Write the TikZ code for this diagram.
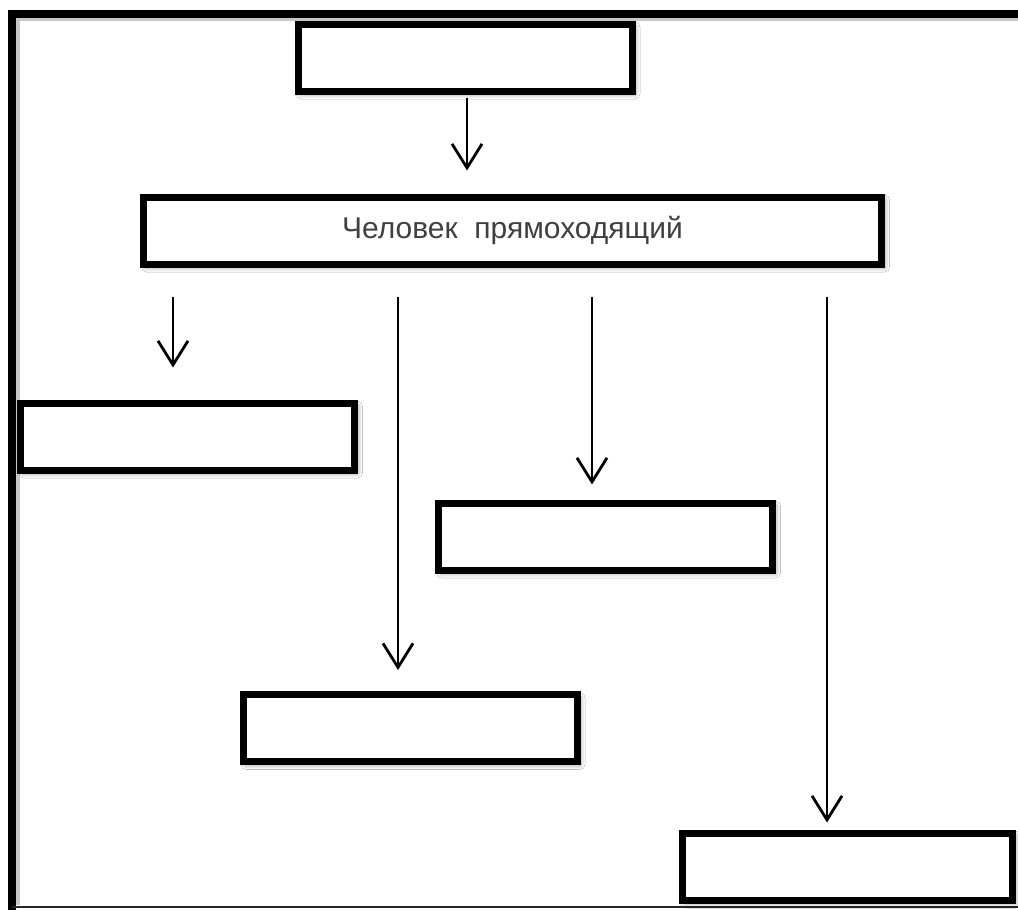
\documentclass[tikz,border=0pt]{standalone}
\usepackage{fontspec}
\setmainfont{Liberation Sans}
\usetikzlibrary{arrows.meta}
\usetikzlibrary{shadows.blur}
\tikzset{
	box/.style={draw, line width=7pt, fill=white, inner sep=0pt,
		minimum width=#1, minimum height=67pt,
		blur shadow={shadow xshift=3pt, shadow yshift=-3pt,
			shadow blur radius=5pt, shadow opacity=50}},
	box/.default=334pt,
	arr/.style={line width=2.8pt,
		-{Straight Barb[length=24pt, width=30pt, line width=2.8pt]}}
}

\begin{document}
\begin{tikzpicture}[x=1pt, y=-1pt]
\clip (0,0) rectangle (1018,910);
\fill[white] (0,0) rectangle (1018,910);

% frame
\draw[black!22, line width=4pt] (1030,19) -- (18,19) -- (18,905);
\draw[line width=8pt] (1030,13.5) -- (12,13.5) -- (12,915);
\draw[black!85, line width=2pt] (12,907) -- (1030,907);

% boxes
\node[box] (top) at (465,57.5) {};
\node[box=738pt] (human) at (512.5,230.5)
	{\fontsize{30}{36}\selectfont\color{black!75}Человек\ \ прямоходящий};
\node[box] (b3) at (187.5,436.5) {};
\node[box] (b4) at (605.5,536.5) {};
\node[box] (b5) at (410,728) {};
\node[box=330pt] (b6) at (847.5,866.5) {};

% arrows
\draw[arr, shorten <=3pt, shorten >=23pt] ([xshift=2pt]top.south) -- ([xshift=2pt]top.south |- human.north);
\foreach \x/\b/\gap in {173/b3/32, 398/b5/21, 592/b4/15, 827/b6/7}
{
	\draw[arr, shorten <=29pt, shorten >=\gap pt] (human.south -| \x,0) -- (\b.north -| \x,0);
}
\end{tikzpicture}
\end{document}
